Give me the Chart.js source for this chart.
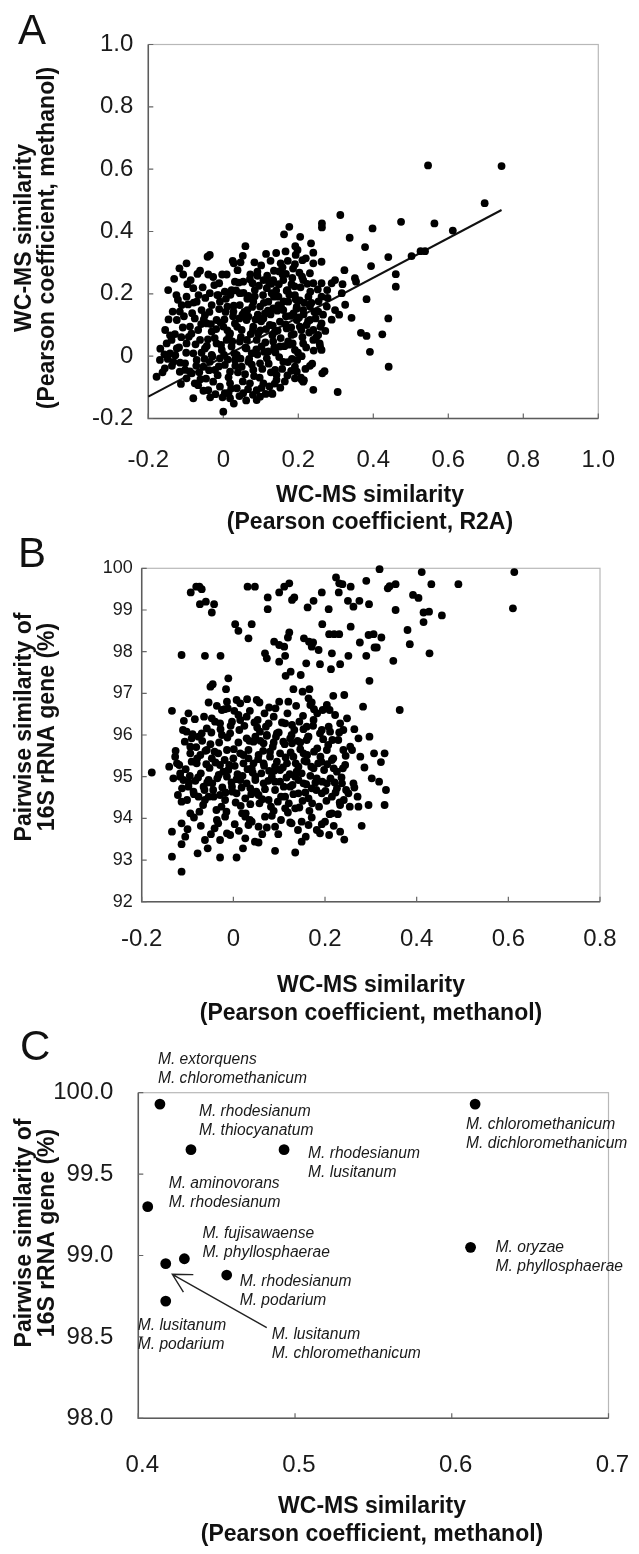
<!DOCTYPE html>
<html><head><meta charset="utf-8">
<script src="https://cdn.jsdelivr.net/npm/chart.js@4/dist/chart.umd.min.js"></script>
<style>
html,body{margin:0;padding:0;background:#fff;}
#wrap{position:relative;width:639px;height:1554px;overflow:hidden;background:#fff;}
canvas{position:absolute;left:0;}
</style></head><body>
<div id="wrap">
<canvas id="cA"></canvas>
<canvas id="cB"></canvas>
<canvas id="cC"></canvas>
</div>
<script>
// ---------------- Panel A data (x: R2A, y: methanol) ----------------
const aTicks = [-0.2, 0, 0.2, 0.4, 0.6, 0.8, 1.0];
const aTickLabels = ['-0.2', '0', '0.2', '0.4', '0.6', '0.8', '1.0'];
const aFitX = [-0.2, 0.742];
const aFitY = [-0.130, 0.469];
const aRight = [
[0.162,0.391],[0.176,0.415],[0.205,0.383],[0.263,0.426],[0.263,0.413],[0.312,0.453],[0.337,0.380],[0.398,0.410],[0.474,0.431],[0.546,0.612],[0.563,0.426],[0.612,0.403],[0.697,0.491],[0.742,0.610],
[0.378,0.350],[0.440,0.318],[0.502,0.321],[0.526,0.337],[0.538,0.337],[0.394,0.289],[0.323,0.276],[0.298,0.244],[0.289,0.234],[0.318,0.231],[0.351,0.250],[0.354,0.239],[0.460,0.263],[0.460,0.223],[0.316,0.202],[0.382,0.183],[0.325,0.165],[0.309,0.133],[0.289,0.117],[0.342,0.123],[0.440,0.121],[0.367,0.075],[0.382,0.065],[0.424,0.070],[0.391,0.014],[0.441,-0.034],[0.305,-0.115],
[0.264,-0.055],[0.270,-0.048],[0.207,-0.069],[0.215,-0.077],[0.240,-0.108]
];
const aUpper = [
[0.234,0.362],[0.192,0.353],[0.059,0.353],[0.240,0.332],[0.193,0.325],[0.220,0.314],[0.262,0.303],[-0.036,0.325],[-0.042,0.319],[-0.098,0.298],[0.025,0.306],[0.028,0.298],[0.126,0.306],[0.153,0.298],[0.191,0.295],[0.240,0.298],[-0.062,0.274],[-0.107,0.262],[-0.040,0.262],[0.038,0.276],[0.091,0.271],[0.091,0.258],[0.135,0.274],[0.158,0.285],[0.167,0.264],[0.210,0.255],[0.231,0.266],[0.277,0.212],[0.262,0.234],
[-0.147,0.212],[-0.087,0.244],[-0.080,0.218],[-0.011,0.234],[0.031,0.239],[0.053,0.239],[0.078,0.234],[0.107,0.244],[0.133,0.244],[0.160,0.244],[0.182,0.231],[0.213,0.244],[0.240,0.234],[-0.098,0.191],[-0.036,0.202],[-0.013,0.196],[0.004,0.207],[0.022,0.212],[0.044,0.202],[0.067,0.193],[0.084,0.212],[0.116,0.218],[0.129,0.202],[0.147,0.191],[0.169,0.210],[0.191,0.196],[0.227,0.191],[0.262,0.191]
];
const aMid = [
[-0.111,0.164],[-0.116,0.143],[-0.071,0.175],[-0.058,0.148],[-0.049,0.132],[-0.031,0.164],[-0.009,0.175],[0.011,0.159],[0.027,0.143],[0.044,0.164],[0.064,0.148],[0.080,0.175],[0.098,0.159],[0.111,0.137],[0.120,0.175],[0.133,0.153],[0.147,0.164],[0.160,0.148],[0.173,0.175],[0.187,0.137],[0.196,0.159],[0.213,0.148],[0.231,0.159],[0.253,0.143],[0.276,0.159],[0.298,0.148],
[-0.124,0.116],[-0.089,0.095],[-0.076,0.121],[-0.067,0.084],[-0.044,0.105],[-0.031,0.079],[-0.018,0.116],[0.000,0.095],[0.018,0.073],[0.031,0.105],[0.049,0.084],[0.062,0.116],[0.080,0.095],[0.093,0.073],[0.107,0.121],[0.124,0.100],[0.138,0.079],[0.151,0.111],[0.169,0.089],[0.182,0.068],[0.196,0.116],[0.204,0.095],[0.222,0.100],[0.240,0.084],[0.253,0.068],[0.231,0.116],[0.262,0.105]
];
const aLow = [
[-0.151,0.041],[-0.169,-0.012],[-0.142,0.009],[-0.138,0.052],[-0.124,0.025],[-0.098,0.041],[-0.080,0.009],[-0.062,0.052],[-0.049,0.025],[-0.031,0.004],[-0.018,0.041],[-0.004,0.020],[0.009,0.052],[0.022,0.031],[0.036,0.004],[0.044,0.047],[0.062,0.025],[0.076,0.009],[0.089,0.052],[0.102,0.031],[0.120,0.015],[0.133,0.047],[0.151,0.031],[0.173,0.047],[0.191,0.020],[0.213,0.041],[0.240,0.052],[0.258,0.031],[0.262,0.020],
[-0.178,-0.066],[-0.156,-0.039],[-0.133,-0.018],[-0.116,-0.050],[-0.102,-0.023],[-0.084,-0.055],[-0.071,-0.012],[-0.053,-0.034],[-0.036,-0.018],[-0.022,-0.044],[-0.009,-0.007],[0.004,-0.028],[0.018,-0.050],[0.031,-0.012],[0.049,-0.034],[0.067,-0.018],[0.080,-0.044],[0.098,-0.023],[0.116,-0.007],[0.138,-0.044],[0.160,-0.018],[0.191,-0.034],[0.196,-0.050],[0.209,0.000],[0.142,-0.060],
[-0.098,-0.071],[-0.067,-0.093],[-0.040,-0.109],[-0.027,-0.082],[-0.009,-0.098],[0.004,-0.119],[0.018,-0.087],[0.036,-0.103],[0.053,-0.119],[0.071,-0.087],[0.089,-0.109],[0.107,-0.087],[0.129,-0.119],[0.142,-0.076],[0.191,-0.071],[0.209,-0.076],[0.213,-0.082],[-0.076,-0.087],
[-0.080,-0.135],[0.018,-0.135],[0.089,-0.141],[0.098,-0.130],[0.000,-0.178],[0.131,-0.121]
];
const aCore = [
[-0.092,0.062],[-0.083,0.138],[-0.072,-0.031],[-0.066,0.196],[-0.058,0.011],[-0.052,0.118],[-0.046,-0.072],[-0.041,0.054],[-0.037,0.142],[-0.029,-0.001],[-0.024,0.228],[-0.019,0.087],[-0.015,-0.061],[-0.011,0.151],[-0.006,0.036],[-0.002,-0.132],[0.003,0.118],[0.007,0.184],[0.012,-0.011],[0.016,0.066],[0.021,-0.104],[0.026,0.128],[0.029,0.009],[0.034,0.211],[0.039,-0.052],[0.043,0.121],[0.047,0.061],[0.052,-0.081],[0.056,0.142],[0.059,0.027],[0.064,0.184],[0.069,-0.009],[0.073,0.071],[0.077,0.158],[0.082,-0.064],[0.086,0.118],[0.091,0.005],[0.095,0.226],[0.099,0.083],[0.104,-0.041],[0.108,0.171],[0.112,0.044],[0.117,0.258],[0.121,-0.024],[0.126,0.134],[0.131,0.067],[0.135,0.191],[0.139,0.012],[0.144,0.146],[0.148,0.231],[0.153,0.058],[0.157,-0.041],[0.161,0.176],[0.166,0.102],[0.171,0.212],[0.175,0.037],[0.179,0.129],[0.184,0.251],[0.188,0.071],[0.193,0.183],[0.197,-0.012],[0.202,0.124],[0.206,0.221],[0.211,0.061],[0.216,0.171],[0.221,0.028],[0.226,0.112],[0.232,0.207],[0.237,-0.024],[0.243,0.142],[0.248,0.061],[0.254,0.176],[0.259,0.094],
[-0.118,0.028],[-0.108,0.092],[-0.102,-0.044],[-0.094,0.166],[-0.129,0.071],[-0.137,-0.031],[-0.146,0.118],[-0.157,0.006],[-0.125,0.196],[-0.113,-0.089],[0.009,0.262],[0.046,0.301],[0.072,0.262],[0.101,0.291],[0.128,0.232],[0.141,0.331],[0.172,0.306],[0.186,0.281],[0.203,0.268],[0.149,0.272],[0.028,-0.152],[0.061,-0.142],[0.113,-0.121],[0.152,-0.101],[0.171,-0.062],[0.183,-0.009],[-0.021,-0.122],[-0.053,-0.111],[0.079,-0.124],[0.123,-0.097]
];
const aDense = [
[-0.048,0.187],[-0.044,0.033],[-0.038,-0.045],[-0.033,0.103],[-0.027,0.254],[-0.023,0.058],[-0.016,0.196],[-0.012,-0.033],[-0.007,0.107],[-0.003,0.262],[0.002,0.004],[0.006,0.142],[0.011,0.083],[0.014,-0.068],[0.019,0.197],[0.024,0.047],[0.028,0.162],[0.032,-0.031],[0.037,0.094],[0.041,0.236],[0.046,-0.008],[0.051,0.133],[0.054,0.203],[0.058,-0.058],[0.063,0.052],[0.067,0.127],[0.071,0.247],[0.076,-0.027],[0.079,0.084],[0.084,0.192],[0.088,0.022],[0.092,0.133],[0.097,-0.069],[0.101,0.112],[0.106,0.196],[0.109,0.014],[0.114,0.087],[0.119,0.146],[0.122,0.236],[0.127,-0.052],[0.132,0.098],[0.136,0.028],[0.141,0.211],[0.145,0.082],[0.149,-0.003],[0.154,0.158],[0.158,0.262],[0.163,0.032],[0.167,0.128],[0.172,-0.019],[0.176,0.197],[0.181,0.092],[0.185,0.041],[0.190,0.224],[0.195,0.152],[0.199,0.011],[0.204,0.179],[0.208,0.084],[0.214,0.134],[0.219,-0.041],[0.224,0.232],[0.229,0.076],[0.235,0.171],[0.241,0.018],[0.246,0.121],[0.252,0.214],[0.257,0.041],[0.266,0.133],[0.272,0.081],[0.278,0.187],
[-0.142,0.067],[-0.135,0.143],[-0.128,0.003],[-0.121,0.181],[-0.115,-0.021],[-0.112,0.061],[-0.105,0.128],[-0.099,0.011],[-0.096,0.231],[-0.089,-0.049],[-0.085,0.072],[-0.079,0.172],[-0.074,0.038],[-0.069,0.264],[-0.064,-0.052],[-0.059,0.103],[-0.055,0.221],[-0.050,-0.009],[-0.162,-0.052],[-0.148,-0.009],[-0.168,0.024],[-0.155,0.084],[-0.131,0.248],[-0.117,0.282],[0.052,0.322],[0.083,0.301],[0.114,0.328],[0.166,0.336],[0.198,0.341],[0.211,0.308],
[0.014,-0.118],[0.043,-0.128],[0.066,-0.106],[0.102,-0.102],[0.137,-0.088],[0.164,-0.081],[-0.035,-0.132],[-0.061,-0.074],[0.181,-0.047],[0.231,-0.031]
];

// ---------------- Panel B data (x: methanol, y: 16S %) ----------------
const bTicksX = [-0.2, 0, 0.2, 0.4, 0.6, 0.8];
const bTickLabelsX = ['-0.2', '0', '0.2', '0.4', '0.6', '0.8'];
const bTicksY = [92, 93, 94, 95, 96, 97, 98, 99, 100];
const bTickLabelsY = ['92', '93', '94', '95', '96', '97', '98', '99', '100'];
const bTop = [
[-0.093,99.42],[-0.081,99.56],[-0.074,99.56],[-0.069,99.50],[-0.073,99.14],[-0.060,99.20],[-0.042,99.14],[-0.047,98.94],[0.031,99.56],[0.047,99.56],[0.075,99.30],[0.075,99.02],[0.100,99.42],[0.111,99.56],[0.122,99.64],[0.128,99.24],[0.133,99.30],[0.162,99.06],[0.175,99.22],[0.193,99.42],[0.208,99.02],[0.224,99.78],[0.231,99.64],[0.238,99.62],[0.256,99.56],[0.230,99.42],[0.250,99.22],[0.262,99.08],[0.275,99.22],[0.290,99.70],[0.004,98.66],[0.011,98.50],[0.040,98.66],[0.033,98.32],[0.089,98.24],[0.100,98.16],[0.111,98.12],[0.122,98.46],[0.119,98.34],[0.154,98.32],[0.165,98.24],[0.174,98.22],[0.194,98.66],[0.209,98.42],[0.220,98.42],[0.231,98.42],[0.256,98.60],[0.276,98.22],[0.295,98.40],
[0.319,99.98],[0.411,99.91],[0.613,99.91],[0.337,99.52],[0.341,99.57],[0.354,99.62],[0.432,99.62],[0.491,99.62],[0.392,99.36],[0.404,99.29],[0.296,99.14],[0.354,99.00],[0.415,98.94],[0.427,98.96],[0.415,98.71],[0.455,98.87],[0.610,99.04],[0.306,98.42],[0.323,98.34],[0.308,98.10],[0.313,98.10],[0.380,98.52],[0.385,98.18],[0.428,97.96],[0.349,97.78],[0.363,96.60]
];
const bMid = [
[-0.113,97.92],[-0.062,97.90],[-0.028,97.90],[0.069,97.96],[0.073,97.84],[0.113,97.90],[0.100,97.76],[0.171,98.12],[0.186,98.04],[0.159,97.72],[0.189,97.70],[0.215,97.96],[0.213,97.58],[0.233,97.70],[0.251,97.90],[0.290,97.90],[0.114,97.42],[0.125,97.52],[0.147,97.44],[0.131,97.10],[0.151,97.04],[0.166,97.10],[0.297,97.30],
[-0.045,97.22],[-0.050,97.16],[-0.011,97.36],[-0.016,97.10],[-0.054,96.78],[-0.134,96.58],[0.007,96.84],[0.015,96.76],[-0.014,96.80],[-0.012,96.64],[0.051,96.84],[0.057,96.78],[0.100,96.80],[0.120,96.80],[0.164,96.88],[0.171,96.78],[0.168,96.72],[0.204,96.72],[0.218,96.94],[0.242,96.96],[0.283,96.68],[0.210,96.60],[0.195,96.60]
];
const bUpperCloud = [
[-0.025,96.60],[-0.047,96.40],[-0.040,96.32],[-0.110,96.12],[-0.102,96.08],[-0.091,95.92],[-0.076,95.96],[-0.069,96.04],[-0.058,96.16],[-0.029,96.28],[-0.003,96.32],[0.015,96.36],[0.029,96.44],[0.053,96.36],[0.077,96.28],[0.088,96.44],[0.113,96.28],[0.128,96.24],[0.144,96.32],[0.160,96.20],[0.175,96.36],[0.193,96.12],[0.208,96.20],[0.233,96.28],[0.248,96.40],[0.273,95.92],[0.297,95.96],[-0.025,96.00],[-0.007,96.04],[0.029,95.92],[0.048,95.96],[0.073,96.00],[0.095,96.04],[0.124,95.92],[0.164,95.96],[0.211,96.08],[0.240,96.12],[0.255,95.72],
[0.044,95.84],[0.066,95.80],[0.088,95.82],[0.109,95.84],[0.128,95.80],[0.146,95.82],[0.160,95.88]
];
const bCloud = [
[-0.127,95.48],[-0.123,95.32],[-0.140,95.24],[-0.178,95.10],[-0.116,95.08],[-0.094,95.72],[-0.094,95.56],[-0.080,95.32],[-0.072,95.52],[-0.058,95.64],[-0.047,95.44],[-0.033,95.56],[-0.029,95.28],[-0.014,95.64],[0.000,95.44],[0.015,95.56],[0.022,95.32],[0.033,95.44],[0.040,95.20],[0.055,95.52],[0.066,95.32],[0.080,95.48],[0.091,95.24],[0.102,95.56],[0.117,95.32],[0.131,95.48],[0.142,95.24],[0.153,95.56],[0.160,95.36],[0.175,95.20],[0.190,95.48],[0.204,95.64],[0.215,95.40],[0.219,95.20],[0.240,95.64],[0.244,95.28],[0.259,95.64],[0.277,95.48],[0.239,95.20],
[-0.116,95.00],[-0.109,94.92],[-0.098,94.76],[-0.087,94.64],[-0.076,94.52],[-0.062,94.44],[-0.065,94.76],[-0.054,94.92],[-0.044,94.68],[-0.029,94.56],[-0.018,94.44],[-0.014,95.00],[-0.003,94.76],[0.007,94.60],[0.015,94.92],[0.026,94.48],[0.037,94.72],[0.048,95.00],[0.055,94.56],[0.066,94.84],[0.077,94.44],[0.084,95.00],[0.091,94.68],[0.102,94.88],[0.113,94.52],[0.124,94.76],[0.135,95.00],[0.142,94.60],[0.153,94.84],[0.164,94.48],[0.171,94.72],[0.182,94.96],[0.193,94.60],[0.204,94.84],[0.215,94.52],[0.226,94.72],[0.237,94.84],[0.241,94.44],[0.262,94.84],[0.233,94.32],[0.251,94.60],[0.273,94.28],[0.295,94.32],
[0.307,95.56],[0.330,95.56],[0.322,95.35],[0.264,94.74],[0.333,94.68],[0.330,94.32],[0.280,93.82],[0.242,93.49],[0.254,94.28],[0.246,94.68]
];
const bLowCloud = [
[-0.113,94.40],[-0.094,94.12],[-0.036,93.96],[-0.033,93.88],[-0.014,93.64],[-0.007,93.60],[0.003,93.86],[0.019,94.12],[0.026,94.04],[0.033,93.84],[0.040,93.92],[0.055,93.80],[0.073,93.78],[0.088,94.18],[0.091,93.80],[0.113,94.24],[0.124,93.90],[0.135,94.24],[0.149,93.92],[0.164,93.84],[0.182,93.72],[0.189,93.64],[0.200,93.92],[0.209,93.60],[0.215,94.12],[0.228,94.10],[0.233,93.68],[0.232,94.38],[0.026,93.52],[0.047,93.44],[0.055,93.42],[-0.029,93.48],[-0.113,93.88],[-0.134,93.68],[-0.105,93.56],[-0.113,93.38],
[-0.134,93.08],[-0.078,93.16],[-0.056,93.28],[-0.029,93.06],[0.007,93.06],[0.091,93.22],[0.135,93.18],[0.149,93.44],[-0.113,92.72]
];
const bCore = [
[-0.104,95.18],[-0.097,94.86],[-0.091,95.36],[-0.086,94.58],[-0.081,95.71],[-0.077,94.98],[-0.071,95.08],[-0.066,94.32],[-0.061,95.62],[-0.057,94.86],[-0.052,95.21],[-0.048,96.06],[-0.043,94.52],[-0.039,95.34],[-0.035,94.96],[-0.031,95.82],[-0.026,94.28],[-0.022,95.12],[-0.017,94.62],[-0.013,95.94],[-0.009,95.28],[-0.004,94.86],[0.001,95.66],[0.005,94.38],[0.009,95.06],[0.013,96.12],[0.018,94.74],[0.022,95.52],[0.027,94.12],[0.031,95.18],[0.035,95.86],[0.039,94.58],[0.044,95.32],[0.048,94.92],[0.052,96.18],[0.057,94.36],[0.061,95.08],[0.065,95.62],[0.069,94.70],[0.073,95.98],[0.078,95.14],[0.082,94.28],[0.086,95.72],[0.091,94.88],[0.095,95.36],[0.099,96.06],[0.104,94.52],[0.108,95.22],[0.112,95.78],[0.116,94.98],[0.121,94.36],[0.125,95.58],[0.129,94.80],[0.133,96.12],[0.138,95.12],[0.142,94.92],[0.146,95.66],[0.151,94.42],[0.155,95.38],[0.159,94.82],[0.163,95.96],[0.168,95.02],[0.172,94.36],[0.176,95.60],[0.181,94.68],[0.185,95.32],[0.189,96.04],[0.194,94.88],[0.198,95.16],[0.203,94.42],[0.207,95.76],[0.212,94.96],[0.218,95.44],[0.223,94.62],[0.229,95.88],
[-0.121,94.56],[-0.126,95.62],[-0.131,94.96],[-0.108,96.34],[-0.084,96.38],[-0.071,93.82],[-0.049,93.62],[0.021,93.28],[0.063,93.62],[0.104,93.96],[0.141,93.72],[0.171,94.02],[0.036,96.58],[0.078,96.66],[0.118,96.52],[0.152,96.46],[0.183,96.52],[-0.019,96.62],[0.011,96.48],[0.058,96.08]
];
const bDense = [
[-0.118,95.28],[-0.112,94.72],[-0.106,95.84],[-0.101,94.44],[-0.095,95.02],[-0.089,96.02],[-0.083,94.90],[-0.079,95.44],[-0.074,94.16],[-0.068,95.86],[-0.063,94.68],[-0.059,95.30],[-0.054,94.52],[-0.050,95.78],[-0.046,94.84],[-0.041,95.60],[-0.037,94.20],[-0.032,95.04],[-0.028,96.14],[-0.024,94.74],[-0.019,95.40],[-0.015,94.16],[-0.011,95.16],[-0.006,96.22],[-0.002,94.64],[0.003,95.26],[0.007,94.94],[0.011,95.82],[0.016,94.30],[0.020,95.02],[0.024,96.22],[0.029,94.84],[0.033,95.64],[0.037,94.34],[0.042,95.10],[0.046,96.30],[0.050,94.64],[0.054,95.42],[0.059,95.86],[0.063,94.46],[0.067,95.26],[0.071,96.20],[0.076,94.90],[0.080,95.60],[0.084,94.06],[0.089,95.14],[0.093,95.96],[0.097,94.40],[0.102,95.16],[0.106,96.30],[0.110,94.76],[0.114,95.46],[0.119,94.14],[0.123,95.06],[0.127,96.00],[0.131,94.58],[0.136,95.32],[0.140,95.86],[0.144,94.26],[0.149,95.08],[0.153,96.14],[0.157,94.62],[0.161,95.52],[0.166,94.18],[0.170,95.24],[0.174,96.22],[0.179,94.86],[0.183,95.68],[0.187,94.28],[0.192,95.36],[0.196,95.90],[0.201,94.66],[0.205,95.30],[0.210,94.10],[0.216,95.88],[0.221,94.86],[0.226,95.12],[0.231,96.06],[0.236,94.98],[0.245,95.50],
[-0.100,93.74],[-0.086,94.02],[-0.062,93.48],[-0.041,93.76],[-0.018,94.04],[0.012,93.70],[0.036,93.96],[0.069,94.04],[0.098,93.62],[0.127,93.88],[0.158,93.56],[0.193,93.86],[0.219,93.82],[-0.098,96.52],[-0.064,96.44],[-0.036,96.70],[0.002,96.58],[0.030,96.86],[0.068,96.52],[0.092,96.64],[0.137,96.70],[0.176,96.62],[0.222,96.48],[0.264,96.14],[0.286,95.22],[0.271,94.52],[0.302,94.96],[0.318,94.88]
];

// ---------------- Panel C data ----------------
const cTicksX = [0.4, 0.5, 0.6, 0.7];
const cTickLabelsX = ['0.4', '0.5', '0.6', '0.7'];
const cTicksY = [98.0, 98.5, 99.0, 99.5, 100.0];
const cTickLabelsY = ['98.0', '98.5', '99.0', '99.5', '100.0'];
const cX = [0.4138, 0.4336, 0.4930, 0.4060, 0.4175, 0.4294, 0.4564, 0.4175, 0.6149, 0.6120];
const cY = [99.93, 99.65, 99.65, 99.30, 98.95, 98.98, 98.88, 98.72, 99.93, 99.05];
const cLabels = [
  ['M. extorquens', 'M. chloromethanicum'],
  ['M. rhodesianum', 'M. thiocyanatum'],
  ['M. rhodesianum', 'M. lusitanum'],
  ['M. aminovorans', 'M. rhodesianum'],
  ['M. lusitanum', 'M. chloromethanicum'],
  ['M. fujisawaense', 'M. phyllosphaerae'],
  ['M. rhodesianum', 'M. podarium'],
  ['M. lusitanum', 'M. podarium'],
  ['M. chloromethanicum', 'M. dichloromethanicum'],
  ['M. oryzae', 'M. phyllosphaerae']
];

// ---------------- layout / style (not data) ----------------
const SANS = "'Liberation Sans', Arial, Helvetica, sans-serif";
const BOLD = `bold 23px ${SANS}`;
const LETTER = `42px ${SANS}`;
const DOT = 3.9;
const cLabelOffsets = [[-2,-44],[8,-38],[24,4],[21,-23],[106,71],[18,-25],[13,7],[-28,25],[-9,21],[25,0]];

function toPts(arr){ return arr.map(p => ({x:p[0], y:p[1]})); }

function axis(min, max, ticks, labels, size, pad, shift){
  return {
    type:'linear', min, max,
    grid:{display:false}, border:{display:false},
    afterBuildTicks(s){ s.ticks = ticks.map(v => ({value:v})); },
    ticks:{
      autoSkip:false, maxRotation:0, minRotation:0, padding:pad, labelOffset:shift || 0, color:'#1a1a1a',
      font:{family:SANS, size},
      callback(v){ const i = ticks.findIndex(t => Math.abs(t - v) < 1e-9); return i >= 0 ? labels[i] : ''; }
    }
  };
}

function decor(top, texts, extra){
  return {
    id:'decor',
    beforeDatasetsDraw(chart){
      const {ctx, chartArea:a, scales} = chart;
      ctx.save();
      ctx.strokeStyle = '#b8b8b8'; ctx.lineWidth = 1.2;
      ctx.strokeRect(a.left, a.top, a.right - a.left, a.bottom - a.top);
      ctx.strokeStyle = '#5c5c5c'; ctx.lineWidth = 1.5;
      ctx.beginPath(); ctx.moveTo(a.left, a.top); ctx.lineTo(a.left, a.bottom); ctx.lineTo(a.right, a.bottom); ctx.stroke();
      ctx.lineWidth = 1.2; ctx.strokeStyle = '#666';
      ctx.beginPath();
      scales.x.ticks.forEach(t => { const p = scales.x.getPixelForValue(t.value); ctx.moveTo(p, a.bottom); ctx.lineTo(p, a.bottom - 5); });
      scales.y.ticks.forEach(t => { const p = scales.y.getPixelForValue(t.value); ctx.moveTo(a.left, p); ctx.lineTo(a.left + 5, p); });
      ctx.stroke();
      ctx.restore();
    },
    afterDraw(chart){
      const ctx = chart.ctx;
      ctx.save();
      ctx.fillStyle = '#111';
      texts.forEach(o => {
        ctx.save();
        ctx.font = o.f;
        ctx.textAlign = o.a || 'center';
        ctx.textBaseline = o.b || 'middle';
        ctx.translate(o.x, o.y - top);
        if (o.r) ctx.rotate(-Math.PI / 2);
        ctx.fillText(o.t, 0, 0);
        ctx.restore();
      });
      ctx.restore();
      if (extra) extra(chart);
    }
  };
}

function panel(id, top, h, area, xs, ys, datasets, texts, extra){
  const cv = document.getElementById(id);
  cv.style.top = top + 'px';
  cv.width = 639; cv.height = h;
  cv.style.width = '639px'; cv.style.height = h + 'px';
  xs.afterFit = s => { s.height = h - area.bottom; s.paddingLeft = 0; s.paddingRight = 0; };
  ys.afterFit = s => { s.width = area.left; s.paddingTop = 0; s.paddingBottom = 0; };
  return new Chart(cv, {
    type:'scatter',
    data:{datasets},
    options:{
      responsive:false, animation:false, devicePixelRatio:1,
      layout:{padding:{top:area.top, right:639 - area.right, left:0, bottom:0}},
      plugins:{legend:{display:false}, tooltip:{enabled:false}},
      scales:{x:xs, y:ys}
    },
    plugins:[decor(top, texts, extra)]
  });
}

function dots(arr, r){
  return {data:toPts(arr), pointRadius:r, pointHoverRadius:r, backgroundColor:'#000', pointBackgroundColor:'#000', borderWidth:0, pointBorderWidth:0, clip:false};
}

// ---- Panel A ----
panel('cA', 0, 560, {left:148.3, top:44.5, right:598.3, bottom:418.5},
  axis(-0.2, 1.0, aTicks, aTickLabels, 24, 19),
  axis(-0.2, 1.0, aTicks, aTickLabels, 24, 7),
  [
    dots(aRight, DOT), dots(aUpper, DOT), dots(aMid, DOT), dots(aLow, DOT), dots(aCore, DOT), dots(aDense, DOT),
    {data:aFitX.map((x,i)=>({x, y:aFitY[i]})), showLine:true, borderColor:'#111', borderWidth:2, pointRadius:0, fill:false, clip:false}
  ],
  [
    {t:'A', x:18, y:44, f:LETTER, a:'left', b:'alphabetic'},
    {t:'WC-MS similarity', x:25, y:238, f:BOLD, r:1},
    {t:'(Pearson coefficient, methanol)', x:48, y:238, f:BOLD, r:1},
    {t:'WC-MS similarity', x:370, y:496, f:BOLD},
    {t:'(Pearson coefficient, R2A)', x:370, y:523, f:BOLD}
  ]);

// ---- Panel B ----
panel('cB', 520, 520, {left:141.7, top:48.3, right:600, bottom:381.7},
  axis(-0.2, 0.8, bTicksX, bTickLabelsX, 24, 15),
  axis(92, 100, bTicksY, bTickLabelsY, 18, 1),
  [ dots(bTop, DOT), dots(bMid, DOT), dots(bUpperCloud, DOT), dots(bCloud, DOT), dots(bLowCloud, DOT), dots(bCore, DOT), dots(bDense, DOT) ],
  [
    {t:'B', x:18, y:567, f:LETTER, a:'left', b:'alphabetic'},
    {t:'Pairwise similarity of', x:25, y:727, f:BOLD, r:1},
    {t:'16S rRNA gene (%)', x:48, y:727, f:BOLD, r:1},
    {t:'WC-MS similarity', x:371, y:986, f:BOLD},
    {t:'(Pearson coefficient, methanol)', x:371, y:1014, f:BOLD}
  ]);

// ---- Panel C ----
function cExtra(chart){
  const {ctx, scales:{x, y}} = chart;
  ctx.save();
  ctx.fillStyle = '#1a1a1a';
  ctx.font = `italic 15.6px ${SANS}`;
  ctx.textAlign = 'left'; ctx.textBaseline = 'middle';
  cX.forEach((v, i) => {
    const px = x.getPixelForValue(v), py = y.getPixelForValue(cY[i]);
    const [dx, dy] = cLabelOffsets[i];
    cLabels[i].forEach((line, k) => ctx.fillText(line, px + dx, py + dy + k * 19));
  });
  // arrow pointing to the M. lusitanum / M. chloromethanicum point
  const ax = x.getPixelForValue(cX[4]), ay = y.getPixelForValue(cY[4]);
  const tx = ax + 101, ty = ay + 64, hx = ax + 6.6, hy = ay + 10.7;
  const ang = Math.atan2(ty - hy, tx - hx);
  ctx.strokeStyle = '#222'; ctx.lineWidth = 1.4;
  ctx.beginPath();
  ctx.moveTo(tx, ty); ctx.lineTo(hx, hy);
  ctx.moveTo(hx + 21 * Math.cos(ang - 0.5), hy + 21 * Math.sin(ang - 0.5)); ctx.lineTo(hx, hy);
  ctx.lineTo(hx + 21 * Math.cos(ang + 0.5), hy + 21 * Math.sin(ang + 0.5));
  ctx.stroke();
  ctx.restore();
}
panel('cC', 1020, 534, {left:138.3, top:72.7, right:608.5, bottom:398.3},
  axis(0.4, 0.7, cTicksX, cTickLabelsX, 24, 25, 4),
  axis(98, 100, cTicksY, cTickLabelsY, 24, 17),
  [ {data:cX.map((x,i)=>({x, y:cY[i]})), pointRadius:5.4, pointHoverRadius:5.4, pointBackgroundColor:'#000', borderWidth:0, pointBorderWidth:0, clip:false} ],
  [
    {t:'C', x:20, y:1060, f:LETTER, a:'left', b:'alphabetic'},
    {t:'Pairwise similarity of', x:25, y:1233, f:BOLD, r:1},
    {t:'16S rRNA gene (%)', x:48, y:1233, f:BOLD, r:1},
    {t:'WC-MS similarity', x:372, y:1507, f:BOLD},
    {t:'(Pearson coefficient, methanol)', x:372, y:1535, f:BOLD}
  ], cExtra);
</script>
</body></html>
